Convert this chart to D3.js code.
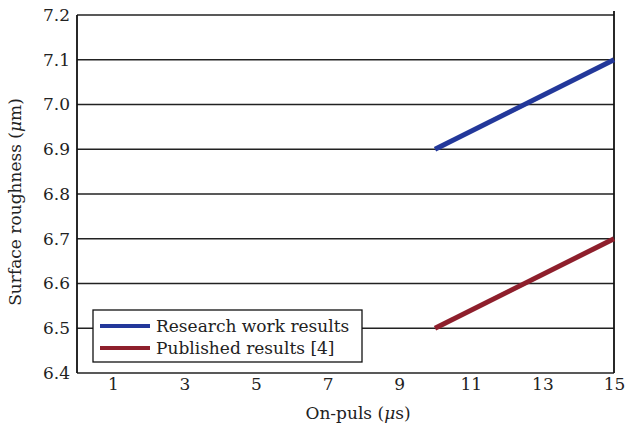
<!DOCTYPE html>
<html><head><meta charset="utf-8">
<script src="https://cdn.jsdelivr.net/npm/d3@7"></script>
<style>body{margin:0;background:#fff}svg{display:block}</style>
</head><body><svg id="c" width="629" height="430"></svg>
<script>
const xTicks = [1,3,5,7,9,11,13,15];
const yTicks = [6.4,6.5,6.6,6.7,6.8,6.9,7.0,7.1,7.2];
const onPuls = [10,15];
const research = [6.9,7.1];
const published = [6.5,6.7];
const seriesNames = ["Research work results","Published results [4]"];
const seriesColors = ["#23389a","#8e1f2c"];

const FONT = "'DejaVu Serif', serif";
const svg = d3.select("#c");
const L=77,R=614,T=15,B=373;
const x = d3.scaleLinear().domain([0,15]).range([L,R]);
const y = d3.scaleLinear().domain([6.4,7.2]).range([B,T]);

svg.append("g").selectAll("line").data(yTicks).join("line")
  .attr("x1",L).attr("x2",R).attr("y1",d=>y(d)).attr("y2",d=>y(d))
  .attr("stroke","#222").attr("stroke-width",1.6);

svg.append("line").attr("x1",L).attr("x2",L).attr("y1",T).attr("y2",B).attr("stroke","#111").attr("stroke-width",1.8);
svg.append("line").attr("x1",R).attr("x2",R).attr("y1",T-4).attr("y2",B).attr("stroke","#111").attr("stroke-width",1.8);

const ya = svg.append("g").attr("transform",`translate(${L},0)`)
  .call(d3.axisLeft(y).tickValues(yTicks).tickFormat(d3.format(".1f")).tickSize(0).tickPadding(7));
ya.select(".domain").remove();
ya.selectAll("text").style("font-family",FONT).style("font-size","17px").attr("fill","#222");

const xa = svg.append("g").attr("transform",`translate(0,${B})`)
  .call(d3.axisBottom(x).tickValues(xTicks).tickFormat(d3.format("d")).tickSize(0).tickPadding(5));
xa.select(".domain").remove();
xa.selectAll("text").style("font-family",FONT).style("font-size","17px").attr("fill","#222");

const line = d3.line().x(d=>x(d[0])).y(d=>y(d[1]));
[research,published].forEach((s,i)=>{
  svg.append("path").datum(onPuls.map((v,j)=>[v,s[j]]))
    .attr("d",line).attr("fill","none").attr("stroke",seriesColors[i]).attr("stroke-width",5);
});

const lg = svg.append("g");
lg.append("rect").attr("x",93).attr("y",310).attr("width",269).attr("height",52)
  .attr("fill","#fff").attr("stroke","#111").attr("stroke-width",1.3);
seriesNames.forEach((n,i)=>{
  const yy = 326 + i*22;
  lg.append("line").attr("x1",100).attr("x2",150).attr("y1",yy).attr("y2",yy)
    .attr("stroke",seriesColors[i]).attr("stroke-width",4);
  lg.append("text").attr("x",156).attr("y",yy+6).style("font-family",FONT).style("font-size","17px").attr("fill","#222").text(n);
});

svg.append("text").attr("x",358).attr("y",419).attr("text-anchor","middle").style("font-family",FONT).style("font-size","17px").attr("fill","#222")
  .html('On-puls (<tspan font-style="italic">μ</tspan>s)');
svg.append("text").attr("transform","translate(21,202) rotate(-90)").attr("text-anchor","middle").style("font-family",FONT).style("font-size","17px").attr("fill","#222")
  .html('Surface roughness (<tspan font-style="italic">μ</tspan>m)');
</script></body></html>
